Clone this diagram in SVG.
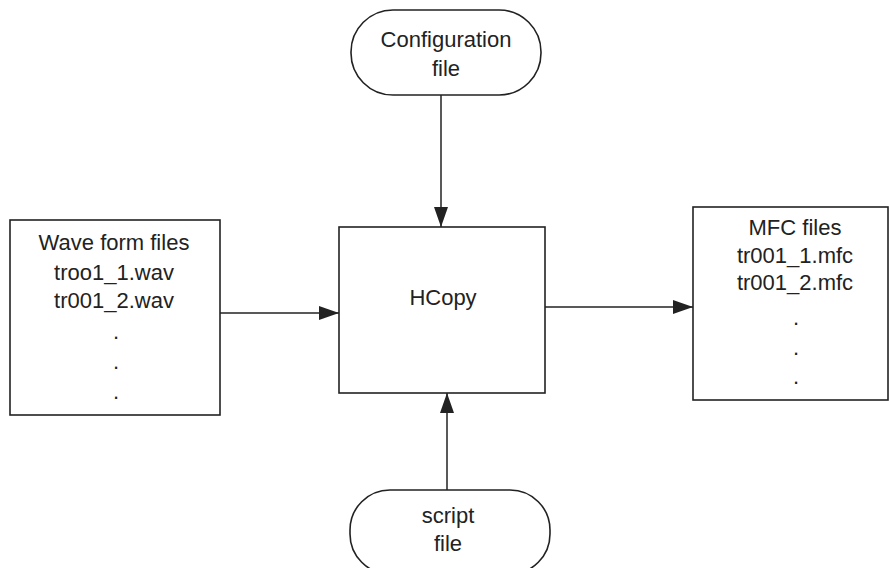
<svg xmlns="http://www.w3.org/2000/svg" width="890" height="568" viewBox="0 0 890 568">
<defs>
<marker id="ah" viewBox="0 0 20 14" refX="20" refY="7" markerWidth="20" markerHeight="14" markerUnits="userSpaceOnUse" orient="auto">
<path d="M0,0 L20,7 L0,14 Z" fill="#222"/>
</marker>
</defs>
<style>
.box{fill:#fff;stroke:#222;stroke-width:1.6}
.t{font-family:"Liberation Sans",Arial,sans-serif;font-size:22px;fill:#222;text-anchor:middle}
.c{stroke:#222;stroke-width:1.5;fill:none;marker-end:url(#ah)}
</style>
<rect width="890" height="568" fill="#fff"/>
<g id="connectors">
<line class="c" x1="441" y1="95" x2="441" y2="227"/>
<line class="c" x1="220" y1="313" x2="339" y2="313"/>
<line class="c" x1="545" y1="307" x2="693" y2="307"/>
<line class="c" x1="447" y1="490" x2="447" y2="393"/>
</g>
<g id="config">
<rect class="box" x="351" y="10" width="190" height="85" rx="42" ry="42"/>
<text class="t" x="446" y="47">Configuration</text>
<text class="t" x="446" y="76">file</text>
</g>
<g id="wave">
<rect class="box" x="10" y="220" width="210" height="195"/>
<text class="t" x="114" y="250">Wave form files</text>
<text class="t" x="114" y="280">troo1_1.wav</text>
<text class="t" x="114" y="308">tr001_2.wav</text>
<text class="t" x="116" y="339">.</text>
<text class="t" x="116" y="369">.</text>
<text class="t" x="116" y="399">.</text>
</g>
<g id="hcopy">
<rect class="box" x="339" y="227" width="206" height="166"/>
<text class="t" x="443" y="305">HCopy</text>
</g>
<g id="mfc">
<rect class="box" x="693" y="207" width="195" height="193"/>
<text class="t" x="795" y="235">MFC files</text>
<text class="t" x="795" y="263">tr001_1.mfc</text>
<text class="t" x="795" y="290">tr001_2.mfc</text>
<text class="t" x="796" y="325">.</text>
<text class="t" x="796" y="355">.</text>
<text class="t" x="796" y="384">.</text>
</g>
<g id="script">
<rect class="box" x="350" y="490" width="200" height="84" rx="40" ry="40"/>
<text class="t" x="448" y="523">script</text>
<text class="t" x="448" y="551">file</text>
</g>
</svg>
